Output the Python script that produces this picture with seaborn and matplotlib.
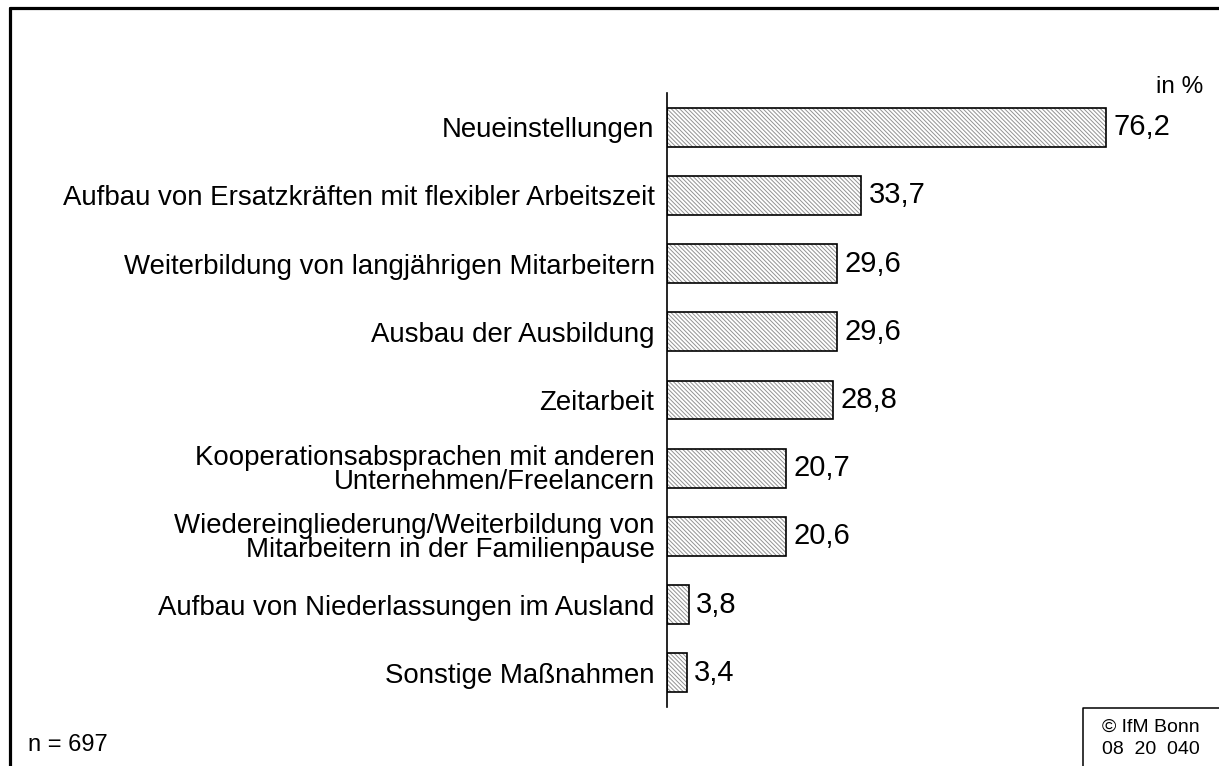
import numpy as np
import pandas as pd
import matplotlib
matplotlib.use("Agg")
import matplotlib.pyplot as plt
import seaborn as sns
from matplotlib.lines import Line2D
from matplotlib.patches import Rectangle

# === Données ===
categories = [
    "Neueinstellungen",
    "Aufbau von Ersatzkräften mit flexibler Arbeitszeit",
    "Weiterbildung von langjährigen Mitarbeitern",
    "Ausbau der Ausbildung",
    "Zeitarbeit",
    "Kooperationsabsprachen mit anderen\nUnternehmen/Freelancern",
    "Wiedereingliederung/Weiterbildung von\nMitarbeitern in der Familienpause",
    "Aufbau von Niederlassungen im Ausland",
    "Sonstige Maßnahmen",
]
values = [76.2, 33.7, 29.6, 29.6, 28.8, 20.7, 20.6, 3.8, 3.4]

df = pd.DataFrame({"massnahme": categories, "anteil": values})

sns.set_style("white")
plt.rcParams["font.family"] = ["Liberation Sans", "DejaVu Sans"]
plt.rcParams["text.color"] = "black"
plt.rcParams["ytick.color"] = "black"
plt.rcParams["ytick.labelcolor"] = "black"
plt.rcParams["hatch.linewidth"] = 0.7

W, H = 1219, 766
fig = plt.figure(figsize=(W / 100, H / 100), dpi=100)
ax = fig.add_axes([667 / W, (H - 707) / H, (1214 - 667) / W, (707 - 93) / H])

sns.barplot(data=df, y="massnahme", x="anteil", orient="h", color="white",
            width=0.57, ax=ax, saturation=1)

# hachures grises + contour noir séparé
for p in list(ax.patches):
    p.set_hatch("\\\\\\\\\\\\\\\\")
    p.set_facecolor("white")
    p.set_edgecolor("#929292")
    p.set_linewidth(0)
    ax.add_patch(Rectangle(p.get_xy(), p.get_width(), p.get_height(),
                           fill=False, edgecolor="black", linewidth=1.2, zorder=3))

# Valeurs à droite des barres
for i, v in enumerate(values):
    ax.text(v + 1.3, i, f"{v:.1f}".replace(".", ","), va="center", ha="left",
            fontsize=21)

ax.set_xlim(0, 95)
ax.set_ylim(8.5, -0.5)
ax.set_xlabel("")
ax.set_ylabel("")
ax.set_xticks([])
ax.tick_params(axis="y", length=0, pad=9, labelsize=19.9)
for lab in ax.get_yticklabels():
    lab.set_linespacing(0.9)
for s in ["top", "right", "bottom"]:
    ax.spines[s].set_visible(False)
ax.spines["left"].set_linewidth(1.2)
ax.spines["left"].set_color("black")
ax.spines["left"].set_zorder(4)

# Cadre (haut et gauche)
fig.add_artist(Line2D([9.5 / W, 1.0], [1 - 8 / H, 1 - 8 / H], color="black",
                      linewidth=2.3, transform=fig.transFigure))
fig.add_artist(Line2D([9.5 / W, 9.5 / W], [0, 1 - 8 / H], color="black",
                      linewidth=2.3, transform=fig.transFigure))

# Encadré source
fig.add_artist(Line2D([1083 / W, 1083 / W, 1.0], [0, 1 - 708 / H, 1 - 708 / H],
                      color="black", linewidth=1.1, transform=fig.transFigure))
fig.text(1151 / W, 1 - 727 / H, "© IfM Bonn", ha="center", va="center", fontsize=14)
fig.text(1151 / W, 1 - 749 / H, "08  20  040", ha="center", va="center", fontsize=14)

fig.text(1203 / W, 1 - 87 / H, "in %", ha="right", va="center", fontsize=17.5)
fig.text(28 / W, 1 - 745 / H, "n = 697", ha="left", va="center", fontsize=17)

fig.savefig("out.png", dpi=100)
